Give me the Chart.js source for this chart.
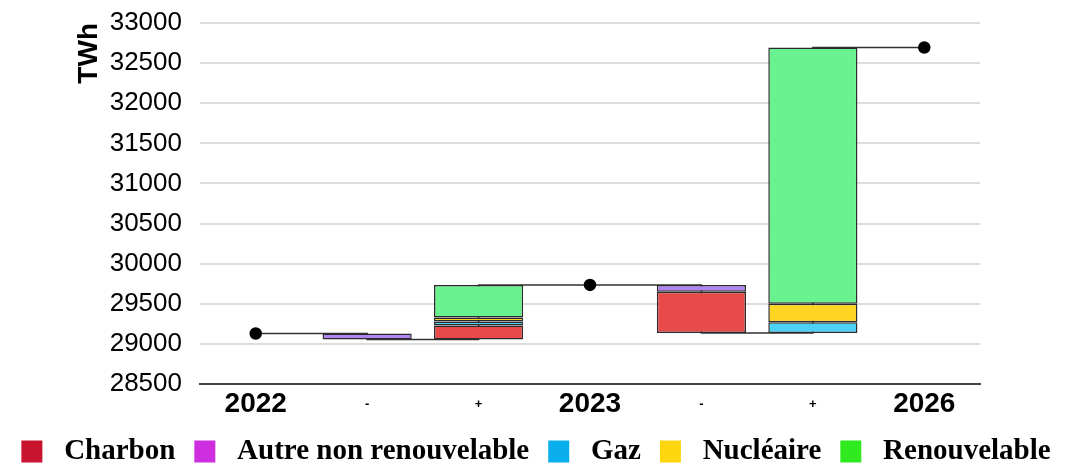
<!DOCTYPE html>
<html>
<head>
<meta charset="utf-8">
<script src="https://cdn.jsdelivr.net/npm/chart.js@4"></script>
<style>
  html, body { margin: 0; padding: 0; background: #fff; }
  #box { width: 1072px; height: 465px; }
</style>
</head>
<body>
<div id="box"><canvas id="chartEnergie"></canvas></div>
<script>
// Catégories de l'axe X et valeurs (TWh)
const categories = ['2022', '-', '+', '2023', '-', '+', '2026'];
const depart2022 = 29130;
// variations par source pour chaque colonne (null = colonne de total)
const charbon      = [null, 0, 175, null, -515, 0, null];
const autre        = [null, -75, 0, null, -85, 0, null];
const gaz          = [null, 0, 50, null, 0, 135, null];
const nucleaire    = [null, 0, 50, null, 0, 230, null];
const renouvelable = [null, 0, 405, null, 0, 3195, null];

const yMin = 28500;
const yMax = 33000;
const yPas = 500;

const sources = [
    { label: 'Charbon', valeurs: charbon, couleur: '#E84A4A', legende: '#C8142E' },
    { label: 'Autre non renouvelable', valeurs: autre, couleur: '#B084F2', legende: '#CC2EE0' },
    { label: 'Gaz', valeurs: gaz, couleur: '#4CD2F7', legende: '#0AAEEC' },
    { label: 'Nucléaire', valeurs: nucleaire, couleur: '#FFD524', legende: '#FDD60E' },
    { label: 'Renouvelable', valeurs: renouvelable, couleur: '#6BF290', legende: '#2EEA1E' }
];

// Calcul des barres flottantes et du niveau cumulé
const niveaux = [];
const barres = sources.map(() => []);
let niveau = depart2022;
categories.forEach((cat, i) => {
    const deltas = sources.map(s => s.valeurs[i]);
    if (deltas.every(d => d === null)) {
        barres.forEach(b => b.push(null));
        niveaux.push(niveau);
        return;
    }
    const somme = deltas.reduce((a, d) => a + (d || 0), 0);
    let bas = niveau + Math.min(somme, 0);
    deltas.forEach((d, k) => {
        if (!d) { barres[k].push(null); return; }
        const h = Math.abs(d);
        barres[k].push([bas, bas + h]);
        bas += h;
    });
    niveau += somme;
    niveaux.push(niveau);
});

const estAnnee = lbl => /^\d{4}$/.test(lbl);

const datasets = sources.map((s, k) => ({
    type: 'bar',
    label: s.label,
    data: barres[k],
    backgroundColor: s.couleur,
    borderColor: '#2b2b2b',
    borderWidth: 1.5,
    borderSkipped: false,
    grouped: false,
    categoryPercentage: 1,
    barPercentage: 0.8,
    order: 1
}));

datasets.push({
    type: 'line',
    label: 'Total',
    data: niveaux,
    stepped: 'before',
    borderColor: '#333',
    borderWidth: 1.5,
    pointRadius: categories.map(c => estAnnee(c) ? 5.5 : 0),
    pointBackgroundColor: '#000',
    pointBorderColor: '#000',
    fill: false,
    order: 10
});

new Chart(document.getElementById('chartEnergie').getContext('2d'), {
    type: 'bar',
    data: { labels: categories, datasets: datasets },
    options: {
        responsive: true,
        maintainAspectRatio: false,
        animation: false,
        layout: { padding: { top: 0, left: 0, right: 0, bottom: -11 } },
        plugins: {
            tooltip: { enabled: false },
            legend: {
                position: 'bottom',
                labels: {
                    boxWidth: 21,
                    boxHeight: 22,
                    padding: 19,
                    color: '#000',
                    font: { family: 'Liberation Serif', size: 29, weight: 'bold' },
                    generateLabels: chart => sources.map((s, k) => ({
                        text: ' ' + s.label,
                        fillStyle: s.legende,
                        strokeStyle: s.legende,
                        lineWidth: 0,
                        datasetIndex: k,
                        hidden: false
                    }))
                }
            }
        },
        scales: {
            x: {
                afterFit: s => { s.height = 34; },
                grid: { display: false, drawTicks: false },
                border: { display: true, color: '#444', width: 2 },
                ticks: {
                    color: '#000',
                    padding: 6,
                    autoSkip: false,
                    maxRotation: 0,
                    font: ctx => {
                        const lbl = categories[ctx.index];
                        return estAnnee(lbl)
                            ? { family: 'Liberation Sans', size: 28, weight: 'bold', lineHeight: 1 }
                            : { family: 'Liberation Sans', size: 13, weight: 'bold', lineHeight: 28 / 13 };
                    }
                }
            },
            y: {
                min: yMin,
                max: yMax,
                afterFit: s => {
                    s.width = 200;
                    s.paddingTop = 23;
                    s.paddingBottom = 16;
                },
                grid: { color: '#dddddd', lineWidth: 2, drawTicks: false },
                border: { display: false },
                ticks: {
                    stepSize: yPas,
                    padding: 18,
                    color: '#000',
                    font: { family: 'Liberation Sans', size: 26 },
                    callback: v => String(v)
                },
                title: {
                    display: true,
                    text: 'TWh',
                    align: 'end',
                    color: '#000',
                    padding: { top: 72, bottom: 0 },
                    font: { family: 'Liberation Sans', size: 28, weight: 'bold', lineHeight: 1.2 }
                }
            },
            yDroite: {
                position: 'right',
                display: true,
                afterFit: s => { s.width = 92; },
                grid: { display: false },
                border: { display: false },
                ticks: { display: false }
            }
        }
    }
});
</script>
</body>
</html>
